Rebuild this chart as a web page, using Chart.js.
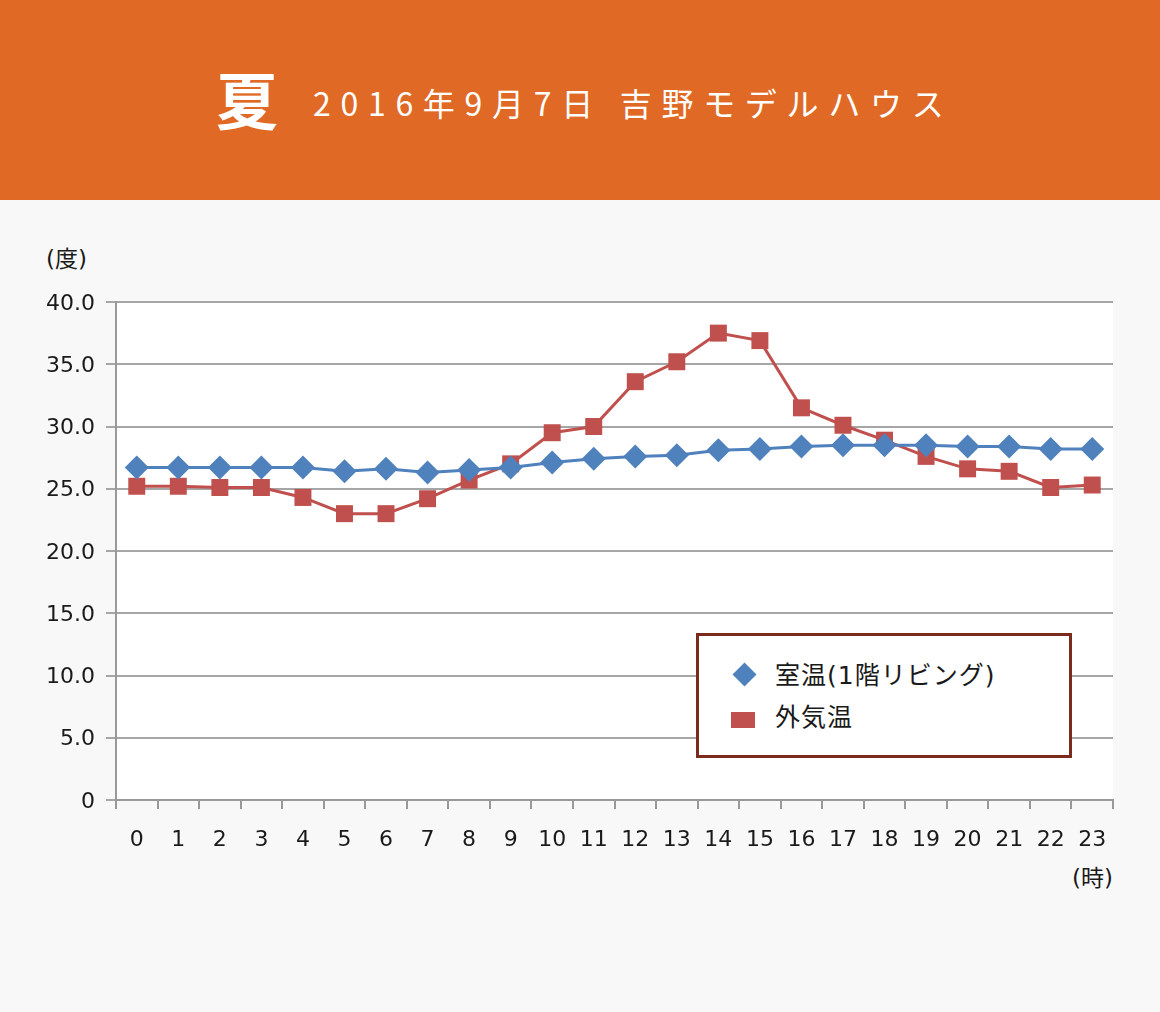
<!DOCTYPE html>
<html lang="ja">
<head>
<meta charset="utf-8">
<script src="https://cdn.jsdelivr.net/npm/chart.js@4/dist/chart.umd.min.js"></script>
<style>
  body { margin: 0; width: 1160px; height: 1012px; background: #f8f8f8; font-family: "Noto Sans CJK JP", "Noto Sans", sans-serif; color: #1a1a1a; position: relative; overflow: hidden; }
  #header { position: absolute; left: 0; top: 0; width: 1160px; height: 200px; background: #e06a25; color: #fff; }
  #season { position: absolute; left: 216px; top: 58px; font-size: 62px; font-weight: 700; line-height: 80px; }
  #subtitle { position: absolute; left: 313px; top: 79px; font-size: 32px; letter-spacing: 9.7px; line-height: 46px; white-space: nowrap; }
  #chartWrap { position: absolute; left: 0; top: 200px; }
  .unit { position: absolute; font-family: "DejaVu Sans", "Noto Sans CJK JP", sans-serif; font-size: 23px; line-height: 28px; }
  #legend { position: absolute; left: 696px; top: 633px; width: 370px; height: 119px; border: 3px solid #7b2b1b; background: #fff; }
  .item { position: absolute; left: 0; font-family: "DejaVu Sans", "Noto Sans CJK JP", sans-serif; font-size: 25px; line-height: 32px; height: 32px; letter-spacing: 1px; }
  .item .mk { position: absolute; }
  .item .tx { position: absolute; left: 76px; white-space: nowrap; top: 0; }
</style>
</head>
<body>
<div id="header">
  <div id="season">夏</div>
  <div id="subtitle">2016年9月7日 吉野モデルハウス</div>
</div>
<div class="unit" style="left:46px; top:245px;">(度)</div>
<div class="unit" style="left:1072px; top:864px;">(時)</div>
<div id="chartWrap"><canvas id="c" width="1160" height="812"></canvas></div>
<div id="legend"></div>

<script>
const hours = ["0","1","2","3","4","5","6","7","8","9","10","11","12","13","14","15","16","17","18","19","20","21","22","23"];
const roomTemp = [26.7, 26.7, 26.7, 26.7, 26.7, 26.4, 26.6, 26.3, 26.5, 26.7, 27.1, 27.4, 27.6, 27.7, 28.1, 28.2, 28.4, 28.5, 28.5, 28.5, 28.4, 28.4, 28.2, 28.2];
const outsideTemp = [25.2, 25.2, 25.1, 25.1, 24.3, 23.0, 23.0, 24.2, 25.7, 27.0, 29.5, 30.0, 33.6, 35.2, 37.5, 36.9, 31.5, 30.1, 28.9, 27.6, 26.6, 26.4, 25.1, 25.3];
const seriesNames = ["室温(1階リビング)", "外気温"];
const seriesColors = ["#4f81bd", "#c0504d"];

document.addEventListener("DOMContentLoaded", () => {
  drawChart();
  drawLegend();
});

const plotBg = {
  id: "plotBg",
  beforeDraw(chart) {
    const a = chart.chartArea;
    const ctx = chart.ctx;
    ctx.save();
    ctx.fillStyle = "#fff";
    ctx.fillRect(a.left, a.top, a.right - a.left, a.bottom - a.top);
    ctx.restore();
  }
};

function drawChart() {
  const ctx = document.getElementById("c").getContext("2d");
  const tickFont = { size: 22, family: "'DejaVu Sans'" };
  new Chart(ctx, {
    type: "line",
    data: {
      labels: hours,
      datasets: [
        {
          label: seriesNames[0],
          data: roomTemp,
          borderColor: seriesColors[0],
          backgroundColor: seriesColors[0],
          borderWidth: 3,
          pointStyle: "rectRot",
          pointRadius: 12,
          pointBorderWidth: 0,
          order: 0
        },
        {
          label: seriesNames[1],
          data: outsideTemp,
          borderColor: seriesColors[1],
          backgroundColor: seriesColors[1],
          borderWidth: 3,
          pointStyle: "rect",
          pointRadius: 12,
          pointBorderWidth: 0,
          order: 1
        }
      ]
    },
    options: {
      responsive: false,
      animation: false,
      layout: { padding: { top: 102, right: 47, bottom: 132, left: 0 } },
      plugins: { legend: { display: false }, tooltip: { enabled: false } },
      scales: {
        x: {
          offset: true,
          grid: { offset: true, drawOnChartArea: false, tickLength: 9, color: "#999", lineWidth: 2 },
          border: { color: "#999", width: 2 },
          ticks: { color: "#1a1a1a", padding: 18, font: tickFont, maxRotation: 0, autoSkip: false },
          afterFit(scale) { scale.height = 80; }
        },
        y: {
          min: 0,
          max: 40,
          ticks: {
            stepSize: 5,
            color: "#1a1a1a",
            padding: 11,
            labelOffset: 2,
            font: tickFont,
            callback: v => v === 0 ? "0" : v.toFixed(1)
          },
          grid: { color: "#a6a6a6", lineWidth: 2, tickLength: 10 },
          border: { color: "#999", width: 2 },
          afterFit(scale) { scale.width = 116; }
        }
      }
    },
    plugins: [plotBg]
  });
}

function drawLegend() {
  const box = document.getElementById("legend");
  const marks = [
    `<div class="mk" style="left:37px; top:6px; width:17px; height:17px; background:${seriesColors[0]}; transform:rotate(45deg);"></div>`,
    `<div class="mk" style="left:32px; top:10px; width:24px; height:16px; background:${seriesColors[1]};"></div>`
  ];
  const tops = [24, 66];
  box.innerHTML = seriesNames.map((name, i) =>
    `<div class="item" style="top:${tops[i]}px; width:360px;">${marks[i]}<span class="tx">${name}</span></div>`
  ).join("");
}
</script>
</body>
</html>
